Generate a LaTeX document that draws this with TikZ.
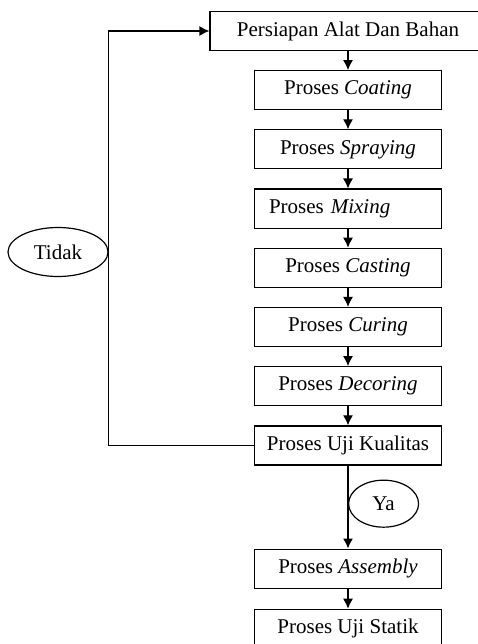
\documentclass[tikz,border=0pt]{standalone}
\usepackage{fontspec}
\setmainfont{Liberation Serif}
\usetikzlibrary{shapes,arrows,positioning,calc,arrows.meta}

\begin{document}
\begin{tikzpicture}[auto, node distance=19pt,
        block/.style={draw, rectangle, line width=1.2pt, inner sep=0pt, minimum height=39pt, minimum width=187pt, align=center, font=\fontsize{21}{25}\selectfont},
        answer/.style={draw, ellipse, line width=1.2pt, inner sep=0pt, font=\fontsize{21}{25}\selectfont},
        >={Latex[length=10pt,width=10pt]}
    ]
        \useasboundingbox (0,0) rectangle (478pt,-644pt);
        \node [block, minimum width=276pt] (prep) at (348pt,-31pt) {Persiapan Alat Dan Bahan};
        \node [block, below=of prep] (coat) {Proses \textit{Coating}};
        \node [block, below=of coat] (spray) {Proses \textit{Spraying}};
        \node [block, below=of spray, text width=158pt, align=left] (mix) {Proses \textit{Mixing}};
        \node [block, below=of mix] (cast) {Proses \textit{Casting}};
        \node [block, below=of cast] (cure) {Proses \textit{Curing}};
        \node [block, below=of cure] (decor) {Proses \textit{Decoring}};
        \node [block, below=of decor] (uji) {Proses Uji Kualitas};
        \node [block, below=83pt of uji] (asm) {Proses \textit{Assembly}};
        \node [block, below=20pt of asm] (statik) {Proses Uji Statik};
        \node [answer, minimum width=70pt, minimum height=47pt, anchor=west] (ya) at ($(uji.south)!0.46!(asm.north)$) {Ya};
        \node [answer, minimum width=100pt, minimum height=49pt] (tidak) at (58pt,-252pt) {Tidak};

        \draw [->, line width=1.2pt] (prep) -- (coat);
        \draw [->, line width=1.2pt] (coat) -- (spray);
        \draw [->, line width=1.2pt] (spray) -- (mix.north -| spray.south);
        \draw [->, line width=1.2pt] (mix.south -| spray.south) -- (cast);
        \draw [->, line width=1.2pt] (cast) -- (cure);
        \draw [->, line width=1.2pt] (cure) -- (decor);
        \draw [->, line width=1.2pt] (decor) -- (uji);
        \draw [->, line width=1.2pt] (uji) -- (asm);
        \draw [->, line width=1.2pt] (asm) -- (statik);
        \draw [->, line width=1.2pt] (uji.west) -| (tidak.east) |- (prep.west);
    \end{tikzpicture}
\end{document}
